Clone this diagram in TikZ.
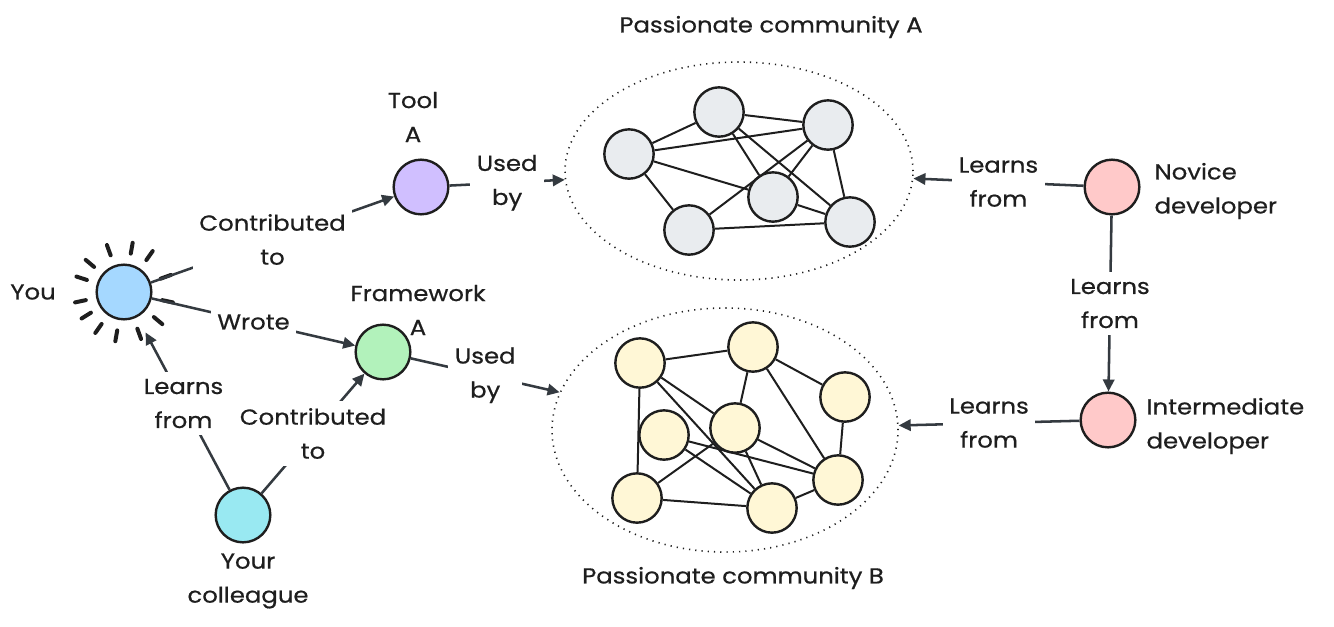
\documentclass[tikz,border=0pt]{standalone}
\usepackage{fontspec}
\setmainfont{Poppins}[FakeStretch=1.12, FakeBold=0.6]
\usetikzlibrary{arrows.meta,calc,shapes.geometric}
\definecolor{ink}{HTML}{1E1E1E}
\definecolor{arr}{HTML}{343A40}
\definecolor{cyou}{HTML}{A5D8FF}
\definecolor{ctool}{HTML}{D0BFFF}
\definecolor{cfw}{HTML}{B2F2BB}
\definecolor{ccol}{HTML}{99E9F2}
\definecolor{cdev}{HTML}{FFC9C9}
\definecolor{cga}{HTML}{E9ECEF}
\definecolor{cgb}{HTML}{FFF7D6}
\tikzset{
  lbl/.style={font=\fontsize{16.3}{25.5}\selectfont, text=ink, align=center, inner sep=1pt},
  big/.style={circle, draw=ink, line width=1.8pt, minimum size=41pt, inner sep=0pt},
  small/.style={circle, draw=ink, line width=1.8pt, minimum size=37pt, inner sep=0pt},
  comm/.style={ellipse, draw=ink, line width=1.2pt, dash pattern=on 0.9pt off 3.8pt, inner sep=0pt},
  conn/.style={draw=arr, line width=1.9pt, -{Triangle[length=9pt,width=8.5pt]}},
  clab/.style={lbl, fill=white, inner sep=5pt},
  net/.style={draw=ink, line width=1.5pt},
  ray/.style={draw=ink, line width=3pt, line cap=round}
}
\begin{document}
\begin{tikzpicture}[x=0.75pt,y=-0.75pt]
\useasboundingbox (0,0) rectangle (1334,626);

% communities
\node[comm, minimum width=261pt, minimum height=163.5pt] (commA) at (739,171) {};
\node[comm, minimum width=259.5pt, minimum height=183pt] (commB) at (725,430) {};
\node[lbl] (titleA) at (771,27) {Passionate community A};
\node[lbl] (titleB) at (733,578) {Passionate community B};

% community A nodes
\node[small, fill=cga] (a1) at (629,154) {};
\node[small, fill=cga] (a2) at (719,112) {};
\node[small, fill=cga] (a3) at (828,125) {};
\node[small, fill=cga] (a4) at (773,197) {};
\node[small, fill=cga] (a5) at (689,230) {};
\node[small, fill=cga] (a6) at (850,222) {};
\foreach \u/\v in {a1/a2,a1/a3,a1/a4,a1/a5,a2/a3,a2/a4,a2/a6,a3/a4,a3/a5,a3/a6,a4/a6,a5/a6}
  \draw[net] (\u) -- (\v);

% community B nodes
\node[small, fill=cgb] (b1) at (640,363) {};
\node[small, fill=cgb] (b2) at (753,347) {};
\node[small, fill=cgb] (b3) at (845,397) {};
\node[small, fill=cgb] (b4) at (664,435) {};
\node[small, fill=cgb] (b5) at (735,428) {};
\node[small, fill=cgb] (b6) at (838,480) {};
\node[small, fill=cgb] (b7) at (637,498) {};
\node[small, fill=cgb] (b8) at (772,508) {};
\foreach \u/\v in {b1/b2,b1/b5,b1/b7,b1/b8,b2/b5,b2/b3,b2/b6,b3/b6,b5/b6,b4/b6,b4/b8,b5/b7,b5/b8,b7/b8,b8/b6}
  \draw[net] (\u) -- (\v);

% main nodes
\node[big, fill=cyou] (you) at (124,292) {};
\node[big, fill=ctool] (tool) at (421,187) {};
\node[big, fill=cfw] (fw) at (383,352) {};
\node[big, fill=ccol] (col) at (243,515) {};
\node[big, fill=cdev] (nov) at (1112,187) {};
\node[big, fill=cdev] (inter) at (1108,420) {};

% sun rays
\foreach \a in {-20,-55,-80,-110,-140,-162,168,148,125,100,70,40,12}
  \draw[ray] ($(you)+(\a:39)$) -- ($(you)+(\a:50)$);

% node labels
\node[lbl] (lyou) at (33,292) {You};
\node[lbl] (ltool) at (413,117) {Tool\\A};
\node[lbl] (lfw) at (418,310) {Framework\\A};
\node[lbl] (lcol) at (248,581) {Your\\colleague};
\node[lbl, align=left, anchor=west] (lnov) at (1153,191) {Novice\\developer};
\node[lbl, align=left, anchor=west] (linter) at (1145,426) {Intermediate\\developer};

% connectors
\draw[conn] (you) -- node[clab] {Contributed\\to} (tool);
\draw[conn] (you) -- node[clab] {Wrote} (fw);
\draw[conn, shorten >=13pt] (col) -- node[clab] {Learns\\from} (you);
\draw[conn] (col) -- node[clab] {Contributed\\to} (fw);
\draw[conn] (tool) -- node[clab] {Used\\by} (commA);
\draw[conn] (fw) -- node[clab] {Used\\by} (commB);
\draw[conn] (nov) -- node[clab] {Learns\\from} (commA);
\draw[conn] (nov) -- node[clab] {Learns\\from} (inter);
\draw[conn] (inter) -- node[clab] {Learns\\from} (commB);
\end{tikzpicture}
\end{document}
